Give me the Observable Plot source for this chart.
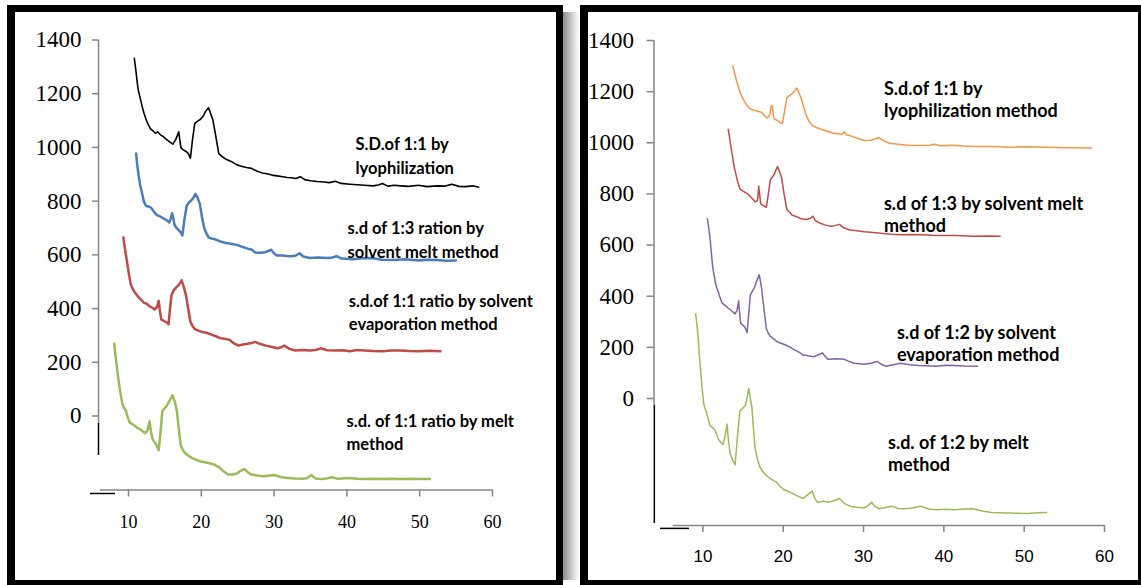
<!DOCTYPE html>
<html><head><meta charset="utf-8">
<script src="https://cdn.jsdelivr.net/npm/d3@7"></script>
<script src="https://cdn.jsdelivr.net/npm/@observablehq/plot@0.6"></script>
<style>
html,body{margin:0;padding:0;background:#fff}
body{width:1141px;height:585px;overflow:hidden;position:relative;font-family:'Liberation Sans',Arial,sans-serif}
.panel{position:absolute;box-sizing:border-box;border-style:solid;border-color:#000;background:#fff}
#p1{left:7px;top:5px;width:556px;height:580px;border-width:7px 7px 5px 8px}
#p2{left:580px;top:5px;width:568px;height:580px;border-width:7px 10px 5px 8px}
#shadow{position:absolute;left:563px;top:12px;width:16px;height:568px;background:linear-gradient(to right,#8c8c8c,#fff)}
#c1{position:absolute;left:0;top:0}
#c2{position:absolute;left:575px;top:0}
svg{overflow:visible}
</style>
</head><body>
<div class="panel" id="p1"></div>
<div id="shadow"></div>
<div class="panel" id="p2"></div>
<div id="c1"></div>
<div id="c2"></div>
<script>
// ---- shared ticks ----
const yTicks = [0, 200, 400, 600, 800, 1000, 1200, 1400];
const xTicks = [10, 20, 30, 40, 50, 60];

// ---- left panel series [2θ, intensity] ----
const blackLeft = [[10.8,1332],[11.0,1290],[11.3,1220],[11.5,1195],[11.65,1179],[11.9,1150],[12.1,1130],[12.4,1105],[12.65,1089],[13.0,1070],[13.4,1061],[13.7,1052],[14.0,1058],[14.4,1047],[14.8,1040],[15.1,1032],[15.4,1026],[15.8,1018],[16.1,1012],[16.5,1030],[16.9,1058],[17.2,998],[17.5,992],[17.9,985],[18.2,978],[18.5,960],[18.8,1030],[19.1,1089],[19.5,1098],[19.9,1105],[20.3,1118],[20.6,1135],[21.0,1148],[21.3,1125],[21.6,1102],[22.0,1040],[22.4,977],[22.9,965],[23.4,956],[24.1,948],[24.9,935],[25.5,930],[26.2,925],[26.9,922],[27.6,912],[28.4,905],[29.0,902],[29.7,897],[30.4,894],[31.2,891],[31.8,888],[32.4,887],[33.0,884],[33.6,891],[34.2,880],[35.0,876],[35.9,873],[36.8,871],[37.6,869],[38.4,874],[39.2,866],[40.4,863],[41.4,861],[42.4,859],[43.6,857],[44.3,860],[44.9,866],[45.6,856],[46.5,859],[47.4,857],[48.5,855],[49.8,859],[51.0,854],[52.4,857],[53.5,856],[54.4,863],[55.4,855],[56.3,854],[57.3,857],[58.1,852]];
const blueLeft = [[11.05,977],[11.2,935],[11.4,894],[11.6,860],[11.9,825],[12.1,800],[12.4,783],[12.7,780],[13.1,776],[13.5,760],[13.9,748],[14.4,742],[14.9,734],[15.3,728],[15.6,720],[15.8,735],[16.0,755],[16.2,730],[16.3,713],[16.6,700],[16.9,692],[17.15,685],[17.4,672],[17.7,735],[18.0,783],[18.3,795],[18.65,804],[18.9,812],[19.2,827],[19.5,812],[19.8,790],[20.1,740],[20.4,700],[20.7,680],[21.0,665],[21.4,661],[21.9,658],[22.6,650],[23.4,644],[24.1,641],[24.9,637],[25.6,630],[26.4,623],[26.9,620],[27.4,609],[28.0,608],[28.8,610],[29.6,619],[30.0,605],[30.4,598],[31.2,598],[31.8,596],[32.4,595],[33.0,598],[33.5,606],[34.0,594],[34.9,588],[36.0,590],[37.4,588],[38.0,590],[38.6,595],[39.3,586],[40.9,584],[42.0,587],[43.4,588],[44.8,582],[46.4,581],[48.0,584],[49.9,579],[51.0,582],[52.4,581],[53.6,578],[54.96,579]];
const redLeft = [[9.3,665],[9.5,625],[9.8,574],[10.05,530],[10.3,491],[10.55,475],[10.8,463],[11.1,452],[11.4,442],[11.75,432],[12.1,422],[12.5,418],[12.9,408],[13.2,404],[13.6,397],[13.9,405],[14.15,429],[14.3,395],[14.5,359],[14.75,356],[15.0,352],[15.25,348],[15.5,341],[15.7,400],[15.9,449],[16.2,468],[16.5,477],[16.9,488],[17.3,505],[17.6,480],[17.9,449],[18.2,400],[18.5,352],[18.8,335],[19.1,324],[19.6,318],[20.1,313],[20.7,310],[21.4,303],[22.0,297],[22.6,290],[23.2,288],[23.9,283],[24.5,270],[25.1,262],[25.7,266],[26.4,269],[26.9,272],[27.4,276],[28.1,268],[28.9,262],[29.6,258],[30.4,252],[30.9,255],[31.4,262],[32.1,250],[32.9,244],[33.9,246],[34.9,244],[35.7,246],[36.4,252],[37.3,245],[38.4,244],[39.4,245],[40.4,241],[41.4,246],[42.4,244],[43.6,242],[44.9,241],[46.1,244],[47.4,244],[48.6,242],[49.9,241],[51.3,243],[52.86,241]];
const greenLeft = [[8.05,269],[8.2,228],[8.4,185],[8.6,140],[8.8,102],[9.0,70],[9.15,47],[9.4,30],[9.65,19],[9.9,-5],[10.15,-23],[10.5,-30],[10.9,-37],[11.25,-45],[11.65,-50],[12.0,-58],[12.3,-64],[12.6,-55],[12.9,-20],[13.1,-60],[13.3,-85],[13.55,-96],[13.8,-106],[14.0,-118],[14.15,-127],[14.4,-60],[14.65,19],[15.0,30],[15.3,40],[15.7,60],[16.05,77],[16.35,55],[16.65,19],[16.9,-45],[17.15,-106],[17.4,-122],[17.65,-134],[18.1,-145],[18.65,-155],[19.2,-162],[19.9,-169],[20.5,-172],[21.1,-176],[21.7,-180],[22.4,-190],[23.0,-205],[23.65,-218],[24.2,-218],[24.9,-214],[25.4,-204],[25.9,-197],[26.4,-210],[26.9,-218],[27.6,-221],[28.4,-224],[29.2,-222],[30.1,-220],[31.0,-228],[31.9,-231],[32.9,-233],[33.9,-234],[34.5,-232],[35.1,-220],[35.7,-233],[36.4,-235],[37.2,-233],[37.9,-228],[38.8,-234],[39.6,-232],[40.4,-231],[41.4,-234],[42.4,-235],[43.6,-234],[44.9,-235],[46.1,-234],[47.4,-235],[48.8,-234],[50.0,-235],[51.4,-235]];

// ---- right panel series ----
const orangeRight = [[13.7,1301],[13.85,1285],[14.0,1265],[14.2,1240],[14.4,1221],[14.6,1200],[14.8,1185],[15.05,1168],[15.3,1155],[15.6,1142],[15.9,1133],[16.2,1128],[16.6,1126],[16.9,1122],[17.3,1119],[17.6,1108],[18.0,1097],[18.3,1105],[18.5,1144],[18.65,1144],[18.8,1100],[18.9,1092],[19.3,1087],[19.6,1080],[19.9,1075],[20.2,1130],[20.45,1177],[20.8,1185],[21.1,1192],[21.4,1203],[21.7,1214],[21.95,1195],[22.2,1177],[22.55,1140],[22.9,1104],[23.2,1085],[23.6,1068],[24.1,1060],[24.7,1053],[25.4,1046],[26.1,1038],[26.8,1035],[27.3,1032],[27.6,1043],[27.9,1030],[28.3,1028],[29.2,1018],[30.1,1009],[30.9,1010],[31.5,1016],[31.9,1020],[32.5,1008],[33.2,998],[34.3,994],[35.5,990],[36.8,989],[38.2,990],[38.8,994],[39.6,988],[41.3,990],[42.4,987],[43.6,985],[45.8,985],[48.1,983],[50.3,984],[52.6,983],[55.5,981],[58.4,980]];
const redRight = [[13.15,1053],[13.3,1025],[13.4,1002],[13.55,972],[13.7,944],[13.9,905],[14.15,871],[14.35,845],[14.6,820],[14.95,812],[15.3,805],[15.6,800],[15.9,790],[16.2,780],[16.5,769],[16.8,775],[16.95,831],[17.05,800],[17.2,761],[17.55,754],[17.9,747],[18.15,800],[18.4,856],[18.65,866],[18.9,878],[19.1,895],[19.3,907],[19.55,886],[19.8,864],[20.1,800],[20.45,739],[20.8,728],[21.1,717],[21.6,712],[22.2,703],[22.9,700],[23.4,705],[23.7,713],[24.0,695],[24.7,684],[25.2,679],[25.8,674],[26.4,676],[27.0,681],[27.5,668],[28.3,659],[29.2,656],[30.1,652],[31.2,649],[32.4,645],[33.5,642],[34.6,640],[36.0,641],[37.3,640],[38.5,638],[39.6,637],[41.6,637],[43.6,634],[45.3,635],[47.0,634]];
const purpleRight = [[10.56,703],[10.75,660],[10.9,623],[11.05,570],[11.2,520],[11.4,480],[11.6,447],[11.75,430],[11.9,418],[12.1,398],[12.35,375],[12.6,368],[12.9,360],[13.2,352],[13.5,345],[13.75,338],[14.0,331],[14.25,345],[14.45,382],[14.55,340],[14.7,294],[14.95,287],[15.2,280],[15.35,270],[15.5,258],[15.7,330],[15.9,404],[16.15,420],[16.4,433],[16.7,460],[17.0,484],[17.15,460],[17.3,433],[17.6,350],[17.9,272],[18.15,255],[18.4,243],[18.85,232],[19.3,221],[19.9,214],[20.45,207],[20.9,200],[21.3,192],[21.9,182],[22.5,170],[23.1,167],[23.8,163],[24.3,170],[24.9,178],[25.2,165],[25.6,153],[26.6,155],[27.6,153],[28.2,145],[28.8,138],[29.5,136],[30.1,134],[30.9,138],[31.7,145],[32.2,134],[32.8,126],[33.7,132],[34.6,138],[35.7,132],[36.9,129],[38.0,128],[39.1,126],[40.2,130],[41.3,129],[42.7,127],[44.2,126]];
const greenRight = [[9.1,331],[9.25,290],[9.4,243],[9.55,170],[9.75,98],[9.9,40],[10.1,-20],[10.25,-38],[10.4,-49],[10.65,-80],[10.9,-107],[11.15,-112],[11.45,-121],[11.7,-140],[11.9,-158],[12.2,-170],[12.5,-180],[12.75,-150],[13.0,-100],[13.2,-170],[13.4,-217],[13.7,-240],[14.0,-260],[14.3,-150],[14.6,-49],[14.95,-38],[15.3,-27],[15.5,5],[15.7,39],[15.9,0],[16.1,-34],[16.3,-120],[16.5,-195],[16.8,-240],[17.1,-268],[17.5,-288],[18.0,-304],[18.5,-315],[19.1,-326],[19.5,-340],[20.0,-355],[20.5,-362],[21.1,-370],[21.8,-382],[22.5,-391],[23.0,-378],[23.6,-362],[24.0,-395],[24.3,-406],[25.0,-402],[25.6,-406],[26.3,-400],[27.0,-391],[27.6,-410],[28.3,-421],[29.2,-425],[30.1,-428],[30.6,-418],[31.0,-406],[31.4,-422],[31.9,-431],[32.7,-426],[33.5,-421],[34.3,-430],[35.1,-431],[36.1,-428],[37.1,-421],[38.1,-432],[39.1,-435],[40.2,-433],[41.3,-435],[42.5,-432],[43.6,-431],[44.8,-440],[45.9,-446],[48.1,-448],[50.4,-450],[51.6,-447],[52.8,-446]];

// ---- annotation labels ----
const leftLabels = [
  "S.D.of 1:1 by\nlyophilization",
  "s.d of 1:3 ration by\nsolvent melt method",
  "s.d.of 1:1 ratio by solvent\nevaporation method",
  "s.d. of 1:1 ratio by melt\nmethod"
];
const leftLabelX = [41.18, 40.08, 40.26, 39.95];
const leftLabelY = [1051, 738, 467, 20];
const rightLabels = [
  "S.d.of 1:1 by\nlyophilization method",
  "s.d of 1:3 by solvent melt\nmethod",
  "s.d of 1:2 by solvent\nevaporation method",
  "s.d. of 1:2 by melt\nmethod"
];
const rightLabelX = [32.54, 32.54, 34.16, 33.04];
const rightLabelY = [1246, 798, 293, -138];

const leftColors = ["#000000", "#4a7ebb", "#be4b48", "#9bbb59"];
const rightColors = ["#f79646", "#be4b48", "#8064a2", "#9bbb59"];

const px = d => d[0], py = d => d[1];
const gray = "#868686";

function notes(labels, xs, ys) {
  return labels.map((t, i) => ({t, x: xs[i], y: ys[i]}));
}

// ---- left chart ----
const left = Plot.plot({
  width: 570, height: 585,
  marginLeft: 98, marginRight: 78, marginTop: 39.5, marginBottom: 95.5,
  x: {domain: [5.88, 60]},
  y: {domain: [-275.5, 1400]},
  style: {background: "transparent", color: "#000", overflow: "visible"},
  marks: [
    Plot.ruleX([{x: 5.88, a: -28, b: 1400}], {x: "x", y1: "a", y2: "b", stroke: gray, strokeWidth: 1.5}),
    Plot.ruleX([{x: 5.88, a: -147, b: -28}], {x: "x", y1: "a", y2: "b", stroke: "#000", strokeWidth: 1.5}),
    Plot.ruleY([{y: -275.5, a: 6.15, b: 60}], {y: "y", x1: "a", x2: "b", stroke: gray, strokeWidth: 1.5}),
    Plot.ruleY([{y: -288.5, a: 4.78, b: 8.21}], {y: "y", x1: "a", x2: "b", stroke: "#000", strokeWidth: 1.5}),
    Plot.axisY(yTicks, {tickSize: 6, tickPadding: 11, stroke: gray, strokeWidth: 1.5, fill: "#000", fontSize: 23, fontFamily: "Liberation Sans Narrow", tickFormat: d => String(d), label: null}),
    Plot.axisX(xTicks, {tickSize: 7, tickPadding: 18, stroke: gray, strokeWidth: 1.5, fill: "#000", fontSize: 18, fontFamily: "Liberation Sans Narrow", tickFormat: d => String(d), label: null}),
    Plot.line(blackLeft, {x: px, y: py, stroke: leftColors[0], strokeWidth: 1.6}),
    Plot.line(blueLeft, {x: px, y: py, stroke: leftColors[1], strokeWidth: 2.5}),
    Plot.line(redLeft, {x: px, y: py, stroke: leftColors[2], strokeWidth: 2.5}),
    Plot.line(greenLeft, {x: px, y: py, stroke: leftColors[3], strokeWidth: 2.5}),
    Plot.text(notes(leftLabels, leftLabelX, leftLabelY), {x: "x", y: "y", text: "t", textAnchor: "start", lineAnchor: "top", lineHeight: 1.41, fontSize: 16.5, fontWeight: "bold", fontFamily: "Lato", fill: "#000"})
  ]
});
document.getElementById("c1").append(left);

// ---- right chart ----
const right = Plot.plot({
  width: 566, height: 585,
  marginLeft: 78.5, marginRight: 37, marginTop: 40, marginBottom: 60,
  x: {domain: [3.91, 60]},
  y: {domain: [-496.7, 1400]},
  style: {background: "transparent", color: "#000", overflow: "visible"},
  marks: [
    Plot.ruleX([{x: 3.91, a: -27, b: 1400}], {x: "x", y1: "a", y2: "b", stroke: gray, strokeWidth: 1.5}),
    Plot.ruleX([{x: 3.95, a: -489, b: -27}], {x: "x", y1: "a", y2: "b", stroke: "#000", strokeWidth: 1.5}),
    Plot.ruleY([{y: -496.7, a: 6.29, b: 60}], {y: "y", x1: "a", x2: "b", stroke: gray, strokeWidth: 1.5}),
    Plot.ruleY([{y: -508, a: 4.72, b: 8.33}], {y: "y", x1: "a", x2: "b", stroke: "#000", strokeWidth: 1.5}),
    Plot.axisY(yTicks, {tickSize: 7, tickPadding: 13, stroke: gray, strokeWidth: 1.5, fill: "#000", fontSize: 23, fontFamily: "Liberation Sans Narrow", tickFormat: d => String(d), label: null}),
    Plot.axisX(xTicks, {tickSize: 7, tickPadding: 17, stroke: gray, strokeWidth: 1.5, fill: "#000", fontSize: 17, fontFamily: "Liberation Sans", tickFormat: d => String(d), label: null}),
    Plot.line(orangeRight, {x: px, y: py, stroke: rightColors[0], strokeWidth: 1.5}),
    Plot.line(redRight, {x: px, y: py, stroke: rightColors[1], strokeWidth: 1.5}),
    Plot.line(purpleRight, {x: px, y: py, stroke: rightColors[2], strokeWidth: 1.5}),
    Plot.line(greenRight, {x: px, y: py, stroke: rightColors[3], strokeWidth: 1.5}),
    Plot.text(notes(rightLabels, rightLabelX, rightLabelY), {x: "x", y: "y", text: "t", textAnchor: "start", lineAnchor: "top", lineHeight: 1.22, fontSize: 18, fontWeight: "bold", fontFamily: "Lato", fill: "#000"})
  ]
});
document.getElementById("c2").append(right);
</script>
</body></html>
